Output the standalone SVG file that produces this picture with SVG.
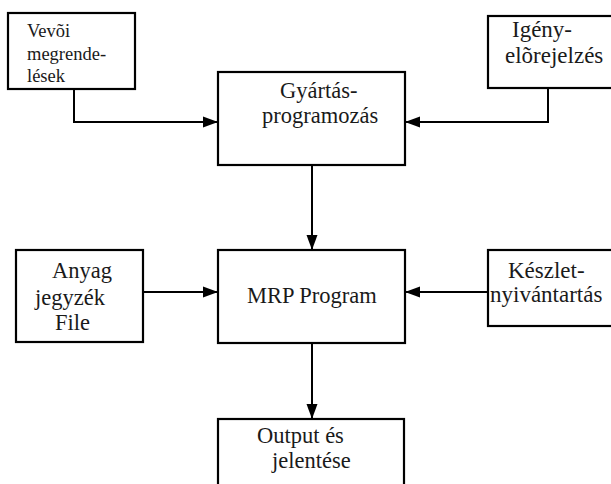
<svg xmlns="http://www.w3.org/2000/svg" width="611" height="484" viewBox="0 0 611 484">
  <style>
    .box { fill: #ffffff; stroke: #000000; stroke-width: 2.2; }
    .wire { fill: none; stroke: #000000; stroke-width: 2; }
    .label { font-family: "Liberation Serif", "Times New Roman", serif; font-size: 22.5px; fill: #1a1a1a; }
    .small { font-size: 18.5px; }
    .wide { font-size: 23px; }
  </style>
  <defs>
    <marker id="arrow" markerUnits="userSpaceOnUse" markerWidth="16" markerHeight="12" refX="15" refY="6" orient="auto">
      <path d="M0,0.5 L15,6 L0,11.5 Z" fill="#000000"/>
    </marker>
  </defs>

  <rect width="611" height="484" fill="#ffffff"/>

  <g id="connectors">
    <path class="wire" d="M74,89 V122 H218" marker-end="url(#arrow)"/>
    <path class="wire" d="M548,88 V122 H405" marker-end="url(#arrow)"/>
    <path class="wire" d="M312,165 V250" marker-end="url(#arrow)"/>
    <path class="wire" d="M143,292 H218" marker-end="url(#arrow)"/>
    <path class="wire" d="M488,292 H405" marker-end="url(#arrow)"/>
    <path class="wire" d="M312,343 V419" marker-end="url(#arrow)"/>
  </g>

  <g id="vevoi-megrendelesek">
    <rect class="box" x="8" y="13" width="127" height="76"/>
    <text class="label small" x="27" y="37">Vevõi</text>
    <text class="label small" x="27" y="60">megrende-</text>
    <text class="label small" x="27" y="82">lések</text>
  </g>

  <g id="gyartasprogramozas">
    <rect class="box" x="218" y="72" width="187" height="93"/>
    <text class="label" x="280" y="98">Gyártás-</text>
    <text class="label" x="262" y="123">programozás</text>
  </g>

  <g id="igeny-elorejelzes">
    <rect class="box" x="488" y="16" width="140" height="72"/>
    <text class="label wide" x="512" y="37">Igény-</text>
    <text class="label wide" x="505" y="63">elõrejelzés</text>
  </g>

  <g id="anyagjegyzek-file">
    <rect class="box" x="16" y="250" width="127" height="92"/>
    <text class="label" x="52" y="278">Anyag</text>
    <text class="label" x="35" y="305">jegyzék</text>
    <text class="label" x="55" y="330">File</text>
  </g>

  <g id="mrp-program">
    <rect class="box" x="218" y="250" width="187" height="93"/>
    <text class="label" x="247" y="303">MRP Program</text>
  </g>

  <g id="keszletnyilvantartas">
    <rect class="box" x="488" y="250" width="140" height="76"/>
    <text class="label wide" x="508" y="278">Készlet-</text>
    <text class="label wide" x="490" y="302">nyivántartás</text>
  </g>

  <g id="output-es-jelentese">
    <rect class="box" x="218" y="419" width="186" height="80"/>
    <text class="label" x="257" y="443">Output és</text>
    <text class="label" x="272" y="468">jelentése</text>
  </g>
</svg>
